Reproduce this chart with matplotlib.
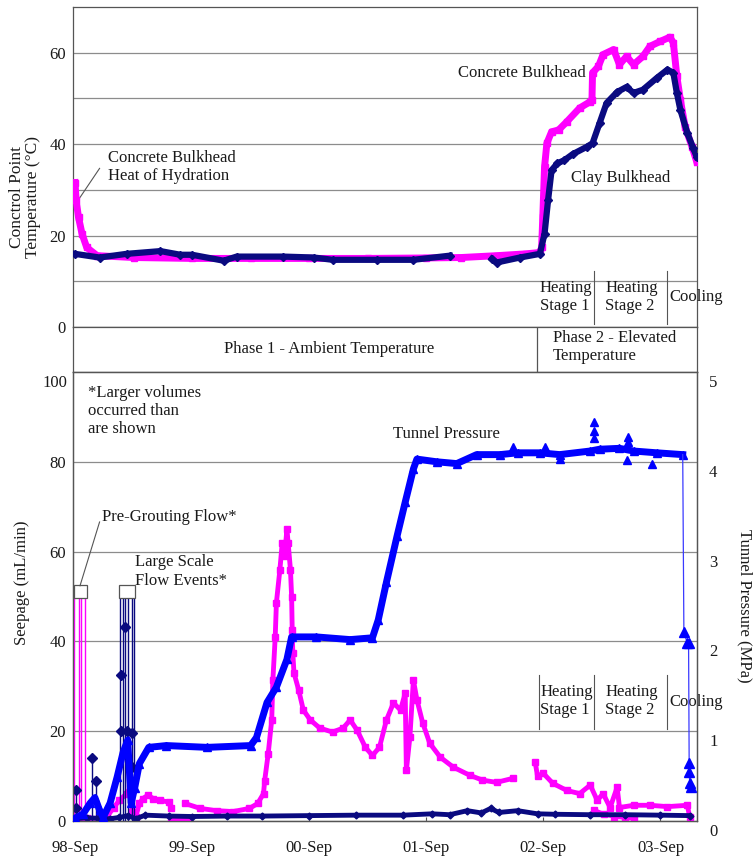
import numpy as np
import matplotlib
matplotlib.use("Agg")
import matplotlib.pyplot as plt
from matplotlib.patches import Rectangle
from matplotlib.transforms import blended_transform_factory, ScaledTranslation

nan = np.nan

# ---------------- data (x = years since Sep-1998) ----------------
date_ticks = [0, 1, 2, 3, 4, 5]
date_labels = ["98-Sep", "99-Sep", "00-Sep", "01-Sep", "02-Sep", "03-Sep"]

# Top panel: control point temperature (deg C)
temp_concrete_x = [0.00, 0.01, 0.03, 0.06, 0.10, 0.19, 0.50, 1.00, 1.50, 2.00, 2.50, 3.00, 3.30,
                   3.60, 3.85, 3.97, 3.985, 3.995, 4.01, 4.03, 4.07, 4.13, 4.20, 4.31, 4.40, 4.415,
                   4.42, 4.47, 4.51, 4.60, 4.65, 4.71, 4.77, 4.85, 4.91, 5.00, 5.08, 5.11, 5.14,
                   5.17, 5.21, 5.27, 5.31]
temp_concrete_y = [31.6, 27.7, 24.0, 20.4, 17.4, 15.6, 15.2, 15.0, 15.0, 15.0, 15.0, 15.1, 15.2,
                   15.6, 16.0, 16.3, 17.4, 24.0, 35.0, 40.2, 42.7, 43.1, 44.9, 47.9, 49.3, 49.7,
                   55.6, 57.0, 59.6, 60.7, 57.4, 59.2, 57.4, 59.2, 61.4, 62.5, 63.4, 62.2, 54.8,
                   49.7, 43.8, 39.4, 36.1]
temp_clay_x = [0.00, 0.21, 0.44, 0.73, 0.90, 1.00, 1.27, 1.38, 1.78, 2.04, 2.20, 2.58, 2.89, 3.20,
               nan, 3.56, 3.60, 3.80, 3.97, 4.01, 4.04, 4.07, 4.12, 4.18, 4.25, 4.37, 4.42, 4.48,
               4.54, 4.63, 4.71, 4.77, 4.85, 4.97, 5.06, 5.11, 5.14, 5.17, 5.23, 5.28, 5.31]
temp_clay_y = [16.0, 15.2, 16.0, 16.6, 15.8, 15.8, 14.5, 15.4, 15.4, 15.2, 14.7, 14.7, 14.7, 15.6,
               nan, 14.9, 14.1, 15.2, 16.0, 20.4, 27.7, 34.3, 35.8, 36.5, 37.8, 39.4, 40.2, 44.6,
               49.0, 51.4, 52.5, 51.2, 51.9, 54.5, 56.3, 55.6, 51.2, 47.5, 42.4, 39.1, 37.2]

# Bottom panel: seepage (mL/min) from concrete bulkhead (magenta)
seep_concrete_x = [0.00, 0.10, 0.22, 0.27, 0.33, 0.38, 0.44, 0.47, 0.49, 0.52, 0.55, 0.58, 0.62,
                   0.67, 0.73, 0.80, 0.82, nan, 0.82, 0.97, nan,
                   0.94, 1.07, 1.21, 1.35, 1.49, 1.56, 1.61, 1.62, 1.65, 1.68, 1.69, 1.71, 1.72,
                   1.75, 1.77, 1.79, 1.81, 1.82, 1.84, 1.85, 1.855, 1.86, 1.87, 1.91, 1.95, 2.01,
                   2.09, 2.20, 2.29, 2.35, 2.41, 2.48, 2.54, 2.60, 2.66, 2.72, 2.78, 2.82, 2.83,
                   2.86, 2.89, 2.92, 2.97, 3.03, 3.12, 3.23, 3.37, 3.48, 3.60, 3.74, nan,
                   3.93, 3.95, 4.00, 4.08, 4.20, 4.31, 4.40, 4.46, 4.51, 4.57, 4.63, 4.65, 4.77,
                   4.91, 5.06, 5.23, 5.25]
seep_concrete_y = [0.5, 0.6, 0.6, 0.8, 3.0, 4.6, 6.1, 7.3, 2.0, 1.0, 3.9, 5.0, 5.7,
                   5.0, 4.6, 4.2, 3.0, nan, 0.4, 0.4, nan,
                   3.9, 2.8, 2.3, 2.1, 2.8, 3.9, 6.1, 9.0, 15.0, 22.5, 31.4, 41.0, 48.6,
                   56.0, 62.0, 59.0, 65.0, 62.0, 56.0, 50.0, 42.6, 37.5, 33.0, 29.2, 24.7, 22.5,
                   20.7, 19.8, 20.7, 22.5, 20.2, 16.4, 14.6, 16.4, 22.5, 26.3, 24.7, 28.5, 11.3,
                   18.7, 31.4, 27.0, 21.8, 17.3, 14.2, 12.0, 10.2, 9.1, 8.6, 9.5, nan,
                   13.1, 10.0, 10.6, 8.4, 6.8, 6.1, 8.0, 4.6, 6.1, 3.0, 7.5, 3.0, 3.5,
                   3.5, 3.2, 3.5, 0.8]
seep_concrete_low_x = [4.43, 4.52, 4.60, 4.70, 4.77]
seep_concrete_low_y = [2.5, 1.5, 1.0, 0.7, 0.6]
pregrout_x = [-0.005, 0.03, 0.055, 0.085]
pregrout_top = [50, 50, 50, 50]

# Bottom panel: seepage (mL/min) from clay bulkhead (navy)
seep_clay_x = [0.00, 0.10, 0.20, 0.30, 0.38, 0.45, 0.52, 0.60, 0.80, 1.00, 1.30, 1.60, 2.00,
               2.40, 2.80, 3.05, 3.20, 3.35, 3.47, 3.55, 3.62, 3.78, 3.95, 4.10, 4.40, 4.70,
               5.00, 5.25]
seep_clay_y = [0.5, 0.7, 0.6, 0.5, 0.8, 1.2, 0.5, 1.3, 1.1, 1.0, 1.1, 1.1, 1.2,
               1.3, 1.3, 1.6, 1.4, 2.3, 1.8, 2.8, 1.9, 2.3, 1.6, 1.5, 1.4, 1.4,
               1.3, 1.2]
clay_event_x = [0.005, 0.145, 0.18, 0.384, 0.41, 0.427, 0.453, 0.487, 0.504]
clay_event_top = [6.8, 14.0, 9.0, 50, 50, 50, 50, 50, 50]
clay_event_pts_x = [0.005, 0.005, 0.145, 0.18, 0.39, 0.39, 0.43, 0.44, 0.49, 0.49]
clay_event_pts_y = [6.8, 2.8, 14.0, 9.0, 32.5, 20.0, 43.3, 20.0, 19.6, 12.0]

# Bottom panel: tunnel pressure (MPa, right axis)
pressure_x = [0.00, 0.07, 0.13, 0.17, 0.21, 0.24, 0.30, 0.36, 0.41, 0.45, 0.48, 0.51, 0.55, 0.63,
              0.78, 1.13, 1.50, 1.55, 1.64, 1.72, 1.81, 1.85, 2.06, 2.35, 2.54, 2.59, 2.66, 2.75,
              2.82, 2.89, 2.92, 3.09, 3.26, 3.43, 3.63, 3.78, 3.97, 4.14, 4.40, 4.48, 4.65,
              4.77, 4.97, 5.19]
pressure_mpa = [0.03, 0.08, 0.20, 0.26, 0.12, 0.04, 0.20, 0.49, 0.76, 0.90, 0.20, 0.37, 0.64, 0.82,
                0.84, 0.82, 0.84, 0.93, 1.32, 1.49, 1.80, 2.05, 2.05, 2.02, 2.04, 2.24, 2.66, 3.17,
                3.55, 3.92, 4.03, 4.00, 3.98, 4.08, 4.08, 4.10, 4.10, 4.08, 4.12, 4.14, 4.15,
                4.12, 4.10, 4.08]
pressure_out_x = [3.74, 4.01, 4.14, 4.43, 4.43, 4.43, 4.72, 4.72, 4.71, 4.93]
pressure_out_y = [4.16, 4.17, 4.03, 4.44, 4.34, 4.27, 4.28, 4.22, 4.02, 3.97]
pressure_drop_x = [5.19, 5.20, 5.23, 5.24, 5.245, 5.245, 5.25, 5.265]
pressure_drop_y = [4.08, 2.10, 1.98, 1.98, 0.65, 0.55, 0.42, 0.38]

# ---------------- style ----------------
plt.rcParams['font.family'] = ['Liberation Serif', 'DejaVu Serif']
plt.rcParams['font.size'] = 12
MAG = '#FF00FF'
NAVY = '#0A0A80'
BLUE = '#0000FF'
GRID = '#8C8C8C'
EDGE = '#555555'
TXT = '#1a1a1a'

W, H = 756, 858
def rect(l, t, r, b):
    return [l / W, 1 - b / H, (r - l) / W, (b - t) / H]

XLIM = (-0.017, 5.312)

fig = plt.figure(figsize=(7.56, 8.58), dpi=100)
axT = fig.add_axes(rect(73, 7, 697, 327))
axP = fig.add_axes(rect(73, 327, 697, 372))
ax = fig.add_axes(rect(73, 372, 697, 821))
ax2 = ax.twinx()

for a in (axT, axP, ax, ax2):
    for s in a.spines.values():
        s.set_color(EDGE)
        s.set_linewidth(0.9)

# ---------------- top panel ----------------
axT.plot(temp_concrete_x, temp_concrete_y, color=MAG, lw=5, marker='s', ms=4.5,
         solid_joinstyle='round', zorder=3)
axT.plot(temp_clay_x, temp_clay_y, color=NAVY, lw=4.5, marker='D', ms=4,
         solid_joinstyle='round', zorder=4)
axT.set_xlim(XLIM)
axT.set_ylim(0, 70)
axT.set_xticks([])
axT.set_yticks([0, 20, 40, 60])
axT.set_yticks([10, 30, 50], minor=True)
axT.grid(axis='y', which='both', color=GRID, lw=0.9)
axT.set_axisbelow(True)
axT.tick_params(axis='y', which='both', length=0, pad=5, labelsize=12, labelcolor=TXT)

for xd in [4.43, 5.06]:
    axT.plot([xd, xd], [0.7, 12.2], color=EDGE, lw=0.8)
axT.text(3.97, 6.6, "Heating\nStage 1", ha='left', va='center', color=TXT)
axT.text(4.53, 6.6, "Heating\nStage 2", ha='left', va='center', color=TXT)
axT.text(5.08, 6.6, "Cooling", ha='left', va='center', color=TXT)

axT.plot([0.026, 0.21], [27.7, 34.7], color=EDGE, lw=0.8)
axT.text(0.28, 35.0, "Concrete Bulkhead\nHeat of Hydration", ha='left', va='center', color=TXT)
axT.text(3.27, 55.6, "Concrete Bulkhead", ha='left', va='center', color=TXT)
axT.text(4.24, 32.7, "Clay Bulkhead", ha='left', va='center', color=TXT)

fig.text(25 / W, 1 - 197 / H, "Conctrol Point\nTemperature (°C)", rotation=90,
         ha='center', va='center', fontsize=12.5, linespacing=1.0, color=TXT)

# ---------------- phase band ----------------
axP.set_xlim(XLIM)
axP.set_ylim(0, 1)
axP.set_xticks([])
axP.set_yticks([])
axP.plot([3.945, 3.945], [0, 1], color=EDGE, lw=0.9)
axP.text(2.17, 0.5, "Phase 1 - Ambient Temperature", ha='center', va='center', color=TXT)
axP.text(4.08, 0.55, "Phase 2 - Elevated\nTemperature", ha='left', va='center', color=TXT)

# ---------------- bottom panel ----------------
ax.vlines(pregrout_x, 0, pregrout_top, color=MAG, lw=1.0, zorder=3)
ax.plot(seep_concrete_x, seep_concrete_y, color=MAG, lw=3.5, marker='s', ms=4.5,
        solid_joinstyle='round', zorder=3)
ax.plot(seep_concrete_low_x, seep_concrete_low_y, color=MAG, lw=3, marker='s', ms=4.5, zorder=3)

ax.vlines(clay_event_x, 0, clay_event_top, color=NAVY, lw=1.0, zorder=4)
ax.plot(clay_event_pts_x, clay_event_pts_y, ls='none', color=NAVY, marker='D', ms=5, zorder=4)
ax.plot(seep_clay_x, seep_clay_y, color=NAVY, lw=3.5, marker='D', ms=3.5,
        solid_joinstyle='round', zorder=4)

ax.add_patch(Rectangle((-0.009, 49.7), 0.109, 2.9, facecolor='white', edgecolor=EDGE,
                       lw=0.9, zorder=6, clip_on=False))
ax.add_patch(Rectangle((0.376, 49.7), 0.136, 2.9, facecolor='white', edgecolor=EDGE,
                       lw=0.9, zorder=6))

ax.set_xlim(XLIM)
ax.set_ylim(0, 100)
ax.set_xticks(date_ticks)
ax.set_xticklabels(date_labels)
ax.tick_params(axis='x', direction='in', length=3, color=EDGE, pad=13.5, labelsize=12,
               labelcolor=TXT)
ax.set_yticks([0, 20, 40, 60, 80])
ax.tick_params(axis='y', length=0, pad=5, labelsize=12, labelcolor=TXT)
ax.grid(axis='y', color=GRID, lw=0.9)
ax.set_axisbelow(True)
left_tr = blended_transform_factory(ax.transAxes, ax.transData) + \
    ScaledTranslation(-6 / 100, -11 / 100, fig.dpi_scale_trans)
ax.text(0, 100, "100", transform=left_tr, ha='right', va='center', color=TXT)

for xd in [3.96, 4.43, 5.06]:
    ax.plot([xd, xd], [20.6, 32.6], color=EDGE, lw=0.8, zorder=2)
ax.text(3.975, 26.7, "Heating\nStage 1", ha='left', va='center', color=TXT)
ax.text(4.53, 26.7, "Heating\nStage 2", ha='left', va='center', color=TXT)
ax.text(5.08, 26.5, "Cooling", ha='left', va='center', color=TXT)

ax.text(0.11, 91.3, "*Larger volumes\noccurred than\nare shown", ha='left', va='center', color=TXT)
ax.text(2.72, 86.2, "Tunnel Pressure", ha='left', va='center', color=TXT)
ax.plot([0.043, 0.21], [52.4, 66.6], color=EDGE, lw=0.8, zorder=6)
ax.text(0.23, 67.8, "Pre-Grouting Flow*", ha='left', va='center', color=TXT)
ax.text(0.51, 55.6, "Large Scale\nFlow Events*", ha='left', va='center', color=TXT)

# pressure on right axis
ax2.plot(pressure_x, pressure_mpa, color=BLUE, lw=5, marker='^', ms=5.5,
         solid_joinstyle='round', zorder=5)
ax2.plot(pressure_out_x, pressure_out_y, ls='none', color=BLUE, marker='^', ms=6, zorder=5)
ax2.plot(pressure_drop_x, pressure_drop_y, color='#3a3aff', lw=0.9, zorder=5)
ax2.plot(pressure_drop_x[1:], pressure_drop_y[1:], ls='none', color=BLUE, marker='^', ms=7,
         zorder=5)
ax2.set_ylim(0, 5)
ax2.set_xlim(XLIM)
ax2.set_yticks([0, 1, 2, 3, 4, 5])
ax2.set_yticklabels([])
ax2.tick_params(axis='y', length=0)
right_tr = blended_transform_factory(ax2.transAxes, ax2.transData) + \
    ScaledTranslation(12 / 100, -11 / 100, fig.dpi_scale_trans)
for v in [0, 1, 2, 3, 4, 5]:
    ax2.text(1, v, str(v), transform=right_tr, ha='left', va='center', color=TXT)

fig.text(22 / W, 1 - 583 / H, "Seepage (mL/min)", rotation=90, ha='center', va='center',
         color=TXT)
fig.text(745 / W, 1 - 606 / H, "Tunnel Pressure (MPa)", rotation=270, ha='center',
         va='center', color=TXT)

fig.savefig("out.png", dpi=100, facecolor='white')
